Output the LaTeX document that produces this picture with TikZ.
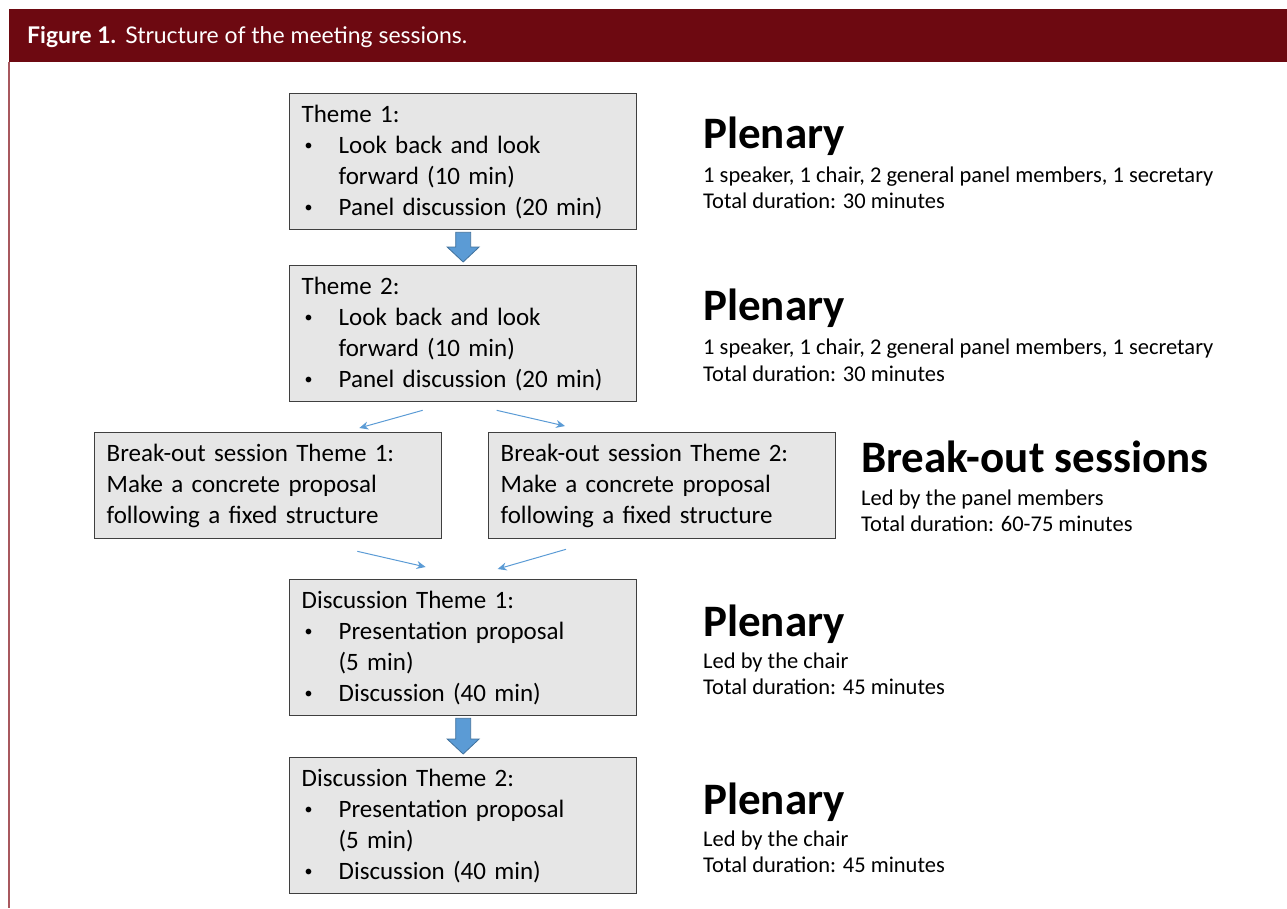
\documentclass[tikz,border=0pt]{standalone}
\usepackage{fontspec}
\setmainfont{Carlito}
\newfontfamily\headfont{Lato}
\usetikzlibrary{calc,arrows.meta}
\definecolor{barred}{HTML}{6D0911}
\definecolor{sideline}{HTML}{A8585E}
\definecolor{boxfill}{HTML}{E6E6E6}
\definecolor{boxline}{HTML}{3F3F3F}
\definecolor{arrblue}{HTML}{5B9BD5}
\definecolor{arrdark}{HTML}{41719C}
\newcommand\bl[1]{\hspace*{3pt}\makebox[34pt][l]{\raisebox{2.5pt}{\fontsize{16}{16}\selectfont\textbullet}}#1}
\newcommand\cl[1]{\hspace*{37pt}#1}
\begin{document}
\begin{tikzpicture}[x=1pt,y=-1pt,
  sbox/.style={draw=boxline, fill=boxfill, line width=1.3pt, anchor=north west,
    inner xsep=12pt, inner ysep=0pt, align=left, text width=323pt,
    minimum height=136pt, font=\fontsize{25}{31}\selectfont},
  bbox/.style={sbox, minimum height=106pt},
  big/.style={anchor=base west, inner sep=0pt, font=\fontsize{45}{50}\selectfont\bfseries},
  small/.style={anchor=base west, inner sep=0pt, font=\fontsize{22.5}{26}\selectfont},
  thin/.style={draw=arrblue, line width=1pt, -{Stealth[length=9pt,width=8pt]}},
  blk/.style={fill=arrblue, draw=arrdark, line width=0.8pt}
]
\useasboundingbox (0,0) rectangle (1287,908);
% header
\fill[barred] (9,9) rectangle (1287,62);
\draw[sideline, line width=2pt] (9,62) -- (9,908);
\node[anchor=base west, inner sep=0pt, text=white, font=\headfont\fontsize{23}{26}\selectfont] (title) at (27,43)
  {\textbf{Figure 1.}\hspace{0.4em}Structure of the meeting sessions.};

% boxes
\node[sbox] (t1) at (289,93) {Theme 1:\\ \bl{Look back and look}\\ \cl{forward (10 min)}\\ \bl{Panel discussion (20 min)}};
\node[sbox] (t2) at (289,265) {Theme 2:\\ \bl{Look back and look}\\ \cl{forward (10 min)}\\ \bl{Panel discussion (20 min)}};
\node[bbox] (b1) at (94,432) {Break-out session Theme 1:\\ Make a concrete proposal\\ following a fixed structure};
\node[bbox] (b2) at (488,432) {Break-out session Theme 2:\\ Make a concrete proposal\\ following a fixed structure};
\node[sbox] (d1) at (289,579) {Discussion Theme 1:\\ \bl{Presentation proposal}\\ \cl{(5 min)}\\ \bl{Discussion (40 min)}};
\node[sbox] (d2) at (289,757) {Discussion Theme 2:\\ \bl{Presentation proposal}\\ \cl{(5 min)}\\ \bl{Discussion (40 min)}};

% block arrows
\foreach \a/\b in {t1/t2, d1/d2} {
  \coordinate (top) at ($(\a.south)+(0,2)$);
  \coordinate (tip) at ($(\b.north)+(0,-3)$);
  \path[blk] ($(top)+(-7.5,0)$) -- ($(top)+(7.5,0)$) -- ($(tip)+(7.5,-15)$) -- ($(tip)+(16,-15)$)
    -- (tip) -- ($(tip)+(-16,-15)$) -- ($(tip)+(-7.5,-15)$) -- cycle;
}

% thin arrows
\coordinate (s1) at ($(t2.south)+(-40.5,8)$);
\coordinate (e1) at ($(b1.north east)+(-83,-4)$);
\coordinate (s2) at ($(t2.south)+(33.5,8)$);
\coordinate (e2) at ($(b2.north west)+(77,-6)$);
\draw[thin] (s1) -- (e1);
\draw[thin] (s2) -- (e2);
\coordinate (s3) at ($(b1.south east)+(-85,12)$);
\coordinate (e3) at ($(d1.north)+(-37.5,-12)$);
\coordinate (s4) at ($(b2.south west)+(78,10)$);
\coordinate (e4) at ($(d1.north)+(34.5,-10)$);
\draw[thin] (s3) -- (e3);
\draw[thin] (s4) -- (e4);

% right texts
\node[big] (p1) at (703,148) {Plenary};
\node[small] (p1a) at (703,182) {1 speaker, 1 chair, 2 general panel members, 1 secretary};
\node[small] (p1b) at (703,208) {Total duration: 30 minutes};
\node[big] (p2) at (703,320) {Plenary};
\node[small] (p2a) at (703,354) {1 speaker, 1 chair, 2 general panel members, 1 secretary};
\node[small] (p2b) at (703,381) {Total duration: 30 minutes};
\node[big] (p3) at (861,472) {Break-out sessions};
\node[small] (p3a) at (861,505) {Led by the panel members};
\node[small] (p3b) at (861,531) {Total duration: 60-75 minutes};
\node[big] (p4) at (703,636) {Plenary};
\node[small] (p4a) at (703,668) {Led by the chair};
\node[small] (p4b) at (703,694) {Total duration: 45 minutes};
\node[big] (p5) at (703,814) {Plenary};
\node[small] (p5a) at (703,846) {Led by the chair};
\node[small] (p5b) at (703,872) {Total duration: 45 minutes};
\end{tikzpicture}
\end{document}
